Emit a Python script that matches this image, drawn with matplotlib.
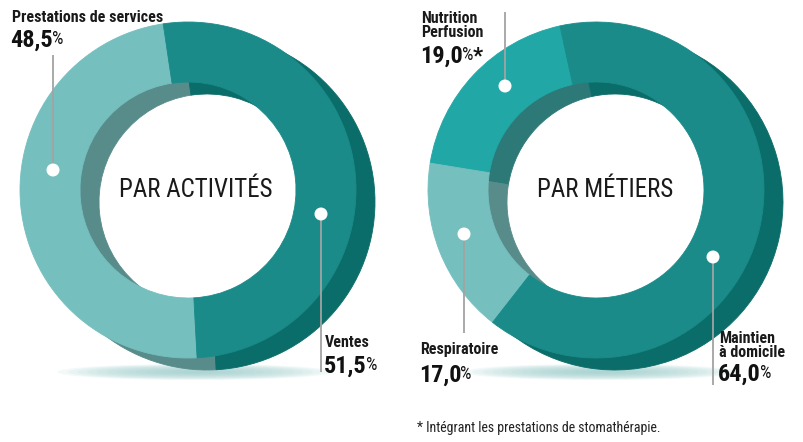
import matplotlib
matplotlib.use('Agg')
import matplotlib.pyplot as plt
from matplotlib.patches import Wedge, Circle, Ellipse

# data
left_title = 'PAR ACTIVITÉS'
left_labels = ['Prestations de services', 'Ventes']
left_values = [48.5, 51.5]

right_title = 'PAR MÉTIERS'
right_labels = ['Nutrition\nPerfusion', 'Respiratoire', 'Maintien\nà domicile']
right_values = [19.0, 17.0, 64.0]
right_marks = ['*', '', '']

footnote = '* Intégrant les prestations de stomathérapie.'

W, H = 804, 442
LIGHT, DARK, MID = '#76bfbf', '#1a8b89', '#21a7a6'
B_LIGHT, B_DARK, B_MID = '#588c8b', '#0a6d69', '#2c7977'
FONT = ['Roboto Condensed', 'Fira Sans Condensed', 'DejaVu Sans']

fig = plt.figure(figsize=(W / 100, H / 100), dpi=100)
ax = fig.add_axes([0, 0, 1, 1])
ax.set_xlim(0, W)
ax.set_ylim(0, H)
ax.axis('off')


def Y(y):
    return H - y


def shadow(cx, cy, w, h):
    n = 14
    for i in range(n):
        f = 1 - i / n
        ax.add_patch(Ellipse((cx, Y(cy)), w * f, h * f, fc='#9fd0ce', ec='none', alpha=0.12, zorder=1))


def donut(cx, cy, values, colors, back_colors, start):
    ro, ri = 168, 108
    dx, dy = 19, 12
    total = sum(values)
    a = start
    spans = []
    for v in values:
        b = a + v / total * 360
        spans.append((a, b))
        a = b
    for (a1, a2), c in zip(spans, back_colors):
        ax.add_patch(Wedge((cx + dx, Y(cy + dy)), ro, a1, a2, width=ro - ri,
                           fc=c, ec=c, lw=0.6, zorder=2))
    for (a1, a2), c in zip(spans, colors):
        ax.add_patch(Wedge((cx, Y(cy)), ro, a1, a2, width=ro - ri,
                           fc=c, ec=c, lw=0.6, zorder=3))


def leader(x, y1, y2):
    ax.plot([x, x], [Y(y1), Y(y2)], color='#a3a3a3', lw=1.3, zorder=4, solid_capstyle='butt')
    ax.add_patch(Circle((x, Y(y1)), 6.5, fc='white', ec='none', zorder=5))


def pct_label(x, y_base, value, mark=''):
    t = ax.text(x, Y(y_base), f'{value:.1f}'.replace('.', ','), family=FONT, weight='bold',
                fontsize=17.5, color='#111111', va='baseline', ha='left', zorder=6)
    p = ax.annotate('%', xy=(1, 1), xycoords=t, xytext=(-0.8, -1), textcoords='offset points',
                    family=FONT, fontsize=13, color='#111111', va='top', ha='left', zorder=6)
    if mark:
        ax.annotate(mark, xy=(1, 1), xycoords=p, xytext=(-0.5, 1), textcoords='offset points',
                    family=FONT, fontsize=16, weight='bold', color='#111111',
                    va='top', ha='left', zorder=6)


def name_label(x, y_base, s):
    ax.text(x, Y(y_base), s, family=FONT, weight='bold', fontsize=11.5, color='#1a1a1a',
            va='baseline', ha='left', linespacing=0.9, zorder=6)


# left donut
shadow(195, 372, 275, 16)
donut(188, 190, left_values, [LIGHT, DARK], [B_LIGHT, B_DARK], 98.5)
ax.text(196, Y(190), left_title, family=FONT, fontsize=18, color='#1a1a1a',
        ha='center', va='center', zorder=6)
leader(53, 170, 55)
leader(321, 214, 372)
name_label(12, 22, left_labels[0])
pct_label(10, 47, left_values[0])
name_label(325, 347, left_labels[1])
pct_label(324, 373, left_values[1])

# right donut
shadow(600, 372, 275, 16)
donut(596, 190, right_values, [MID, LIGHT, DARK], [B_MID, B_LIGHT, B_DARK], 102.4)
ax.text(605, Y(190), right_title, family=FONT, fontsize=18, color='#1a1a1a',
        ha='center', va='center', zorder=6)
leader(505, 86, 12)
leader(464, 234, 333)
leader(713, 257, 385)
name_label(421, 37, right_labels[0])
pct_label(420, 63, right_values[0], right_marks[0])
name_label(420, 354, right_labels[1])
pct_label(419, 382, right_values[1])
name_label(719, 357, right_labels[2])
pct_label(718, 381, right_values[2])

ax.text(417, Y(432), footnote, family=FONT, fontsize=10, color='#222222',
        ha='left', va='baseline')

fig.savefig('out.png', dpi=100)
